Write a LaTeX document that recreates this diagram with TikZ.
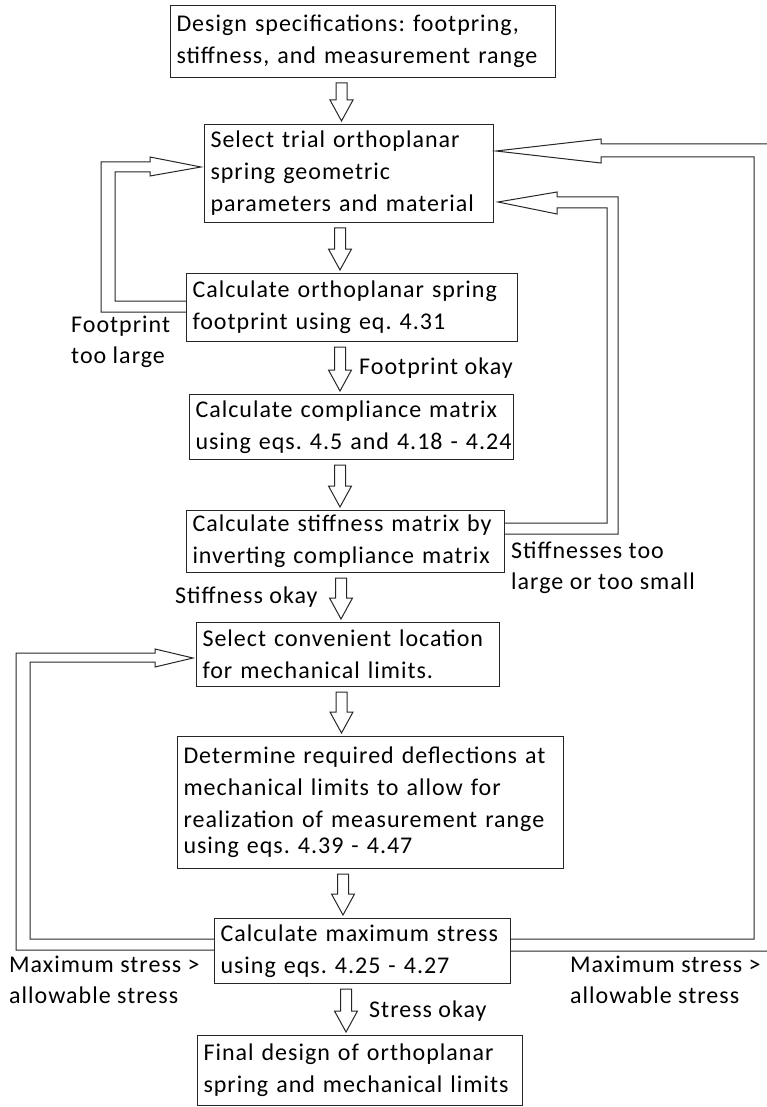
\documentclass[tikz,border=0pt]{standalone}
\usepackage{fontspec}
\setmainfont{Carlito}[LetterSpace=4.2]
\usetikzlibrary{calc}
\newcommand\hollowdown[3]{% from node, to node, x of the arrow axis
  \draw[hol] let \p1=(#1.south), \p2=(#2.north) in
   (#3pt-5.5pt,\y1-5pt) -- (#3pt+5.5pt,\y1-5pt) -- (#3pt+5.5pt,\y2+24pt)
   -- (#3pt+11.5pt,\y2+24pt) -- (#3pt,\y2+3pt) -- (#3pt-11.5pt,\y2+24pt)
   -- (#3pt-5.5pt,\y2+24pt) -- cycle;}
\newcommand\oneline[1]{\mbox{#1}}
\begin{document}
\frenchspacing
\begin{tikzpicture}[x=1pt,y=-1pt,
  every node/.style={font=\fontsize{24}{32}\selectfont, text=black},
  box/.style={draw=black!85, line width=1pt, anchor=north west, align=left,
              inner xsep=6pt, inner ysep=0pt},
  lbl/.style={anchor=base west, align=left, inner sep=0pt,
              font=\fontsize{24}{31}\selectfont},
  hol/.style={draw=black!85, line width=1pt, line join=miter}]
\useasboundingbox (0,0) rectangle (767,1107);

\node[box, minimum width=385pt, minimum height=72pt, text width=373pt] (b1) at (170,5)
  {\oneline{Design specifications: footpring,}\\\oneline{stiffness, and measurement range}};
\node[box, minimum width=289pt, minimum height=98pt, text width=277pt] (b2) at (204,124)
  {\oneline{Select trial orthoplanar}\\\oneline{spring geometric}\\\oneline{parameters and material}};
\node[box, minimum width=331pt, minimum height=68pt, text width=319pt] (b3) at (186,273)
  {\oneline{Calculate orthoplanar spring}\\\oneline{footprint using eq. 4.31}};
\node[box, minimum width=324pt, minimum height=65pt, text width=312pt] (b4) at (189,394)
  {\oneline{Calculate compliance matrix}\\\oneline{using eqs. 4.5 and 4.18 - 4.24}};
\node[box, minimum width=318pt, minimum height=62pt, text width=306pt] (b5) at (186,510)
  {\oneline{Calculate stiffness matrix by}\\\oneline{inverting compliance matrix}};
\node[box, minimum width=303pt, minimum height=64pt, text width=291pt] (b6) at (196,622)
  {\oneline{Select convenient location}\\\oneline{for mechanical limits.}};
\node[box, minimum width=386pt, minimum height=132pt, text width=374pt] (b7) at (177,736)
  {\oneline{Determine required deflections at}\\\oneline{mechanical limits to allow for}\\\oneline{realization of measurement range}\\[-6pt]\oneline{using eqs. 4.39 - 4.47}};
\node[box, minimum width=296pt, minimum height=65pt, text width=284pt] (b8) at (214,918)
  {\oneline{Calculate maximum stress}\\\oneline{using eqs. 4.25 - 4.27}};
\node[box, minimum width=325pt, minimum height=70pt, text width=313pt] (b9) at (197,1035)
  {\oneline{Final design of orthoplanar}\\\oneline{spring and mechanical limits}};

\hollowdown{b1}{b2}{341.5}
\hollowdown{b2}{b3}{340}
\hollowdown{b3}{b4}{340}
\hollowdown{b4}{b5}{340}
\hollowdown{b5}{b6}{341}
\hollowdown{b6}{b7}{341.5}
\hollowdown{b7}{b8}{343}
\hollowdown{b8}{b9}{346}

% footprint too large loop
\draw[hol] (b3.west |- 0,312) -- (101,312) -- (101,162) -- (150,162) -- (150,157)
  -- ($(b2.west |- 0,167)+(-3,0)$) -- (150,176) -- (150,172) -- (115,172)
  -- (115,301) -- (b3.west |- 0,301);
% stiffness loop
\draw[hol] (b5.east |- 0,523) -- (607,523) -- (607,208) -- (557,208) -- (557,214)
  -- ($(b2.east |- 0,202)+(4,0)$) -- (557,192) -- (557,197) -- (618,197)
  -- (618,534) -- (b5.east |- 0,534);
% max stress right loop
\draw[hol] (b8.east |- 0,939) -- (754,939) -- (754,157) -- (601,157) -- (601,163)
  -- ($(b2.east |- 0,151)+(2,0)$) -- (601,139) -- (601,144) -- (771,144)
  -- (771,951) -- (b8.east |- 0,951);
% max stress left loop
\draw[hol] (b8.west |- 0,939) -- (30,939) -- (30,662) -- (155,662) -- (155,667)
  -- ($(b6.west |- 0,658)+(-3,0)$) -- (155,649) -- (155,653) -- (16,653)
  -- (16,950) -- (b8.west |- 0,950);

\node[lbl] (t1) at (71,363) {Footprint\\too large};
\node[lbl] (t2) at (359,374) {Footprint okay};
\node[lbl] (t3) at (511,589) {Stiffnesses too\\large or too small};
\node[lbl] (t4) at (175,603) {Stiffness okay};
\node[lbl] (t5) at (9,1003) {Maximum stress >\\allowable stress};
\node[lbl] (t6) at (570,1003) {Maximum stress >\\allowable stress};
\node[lbl] (t7) at (369,1017) {Stress okay};
\end{tikzpicture}
\end{document}
